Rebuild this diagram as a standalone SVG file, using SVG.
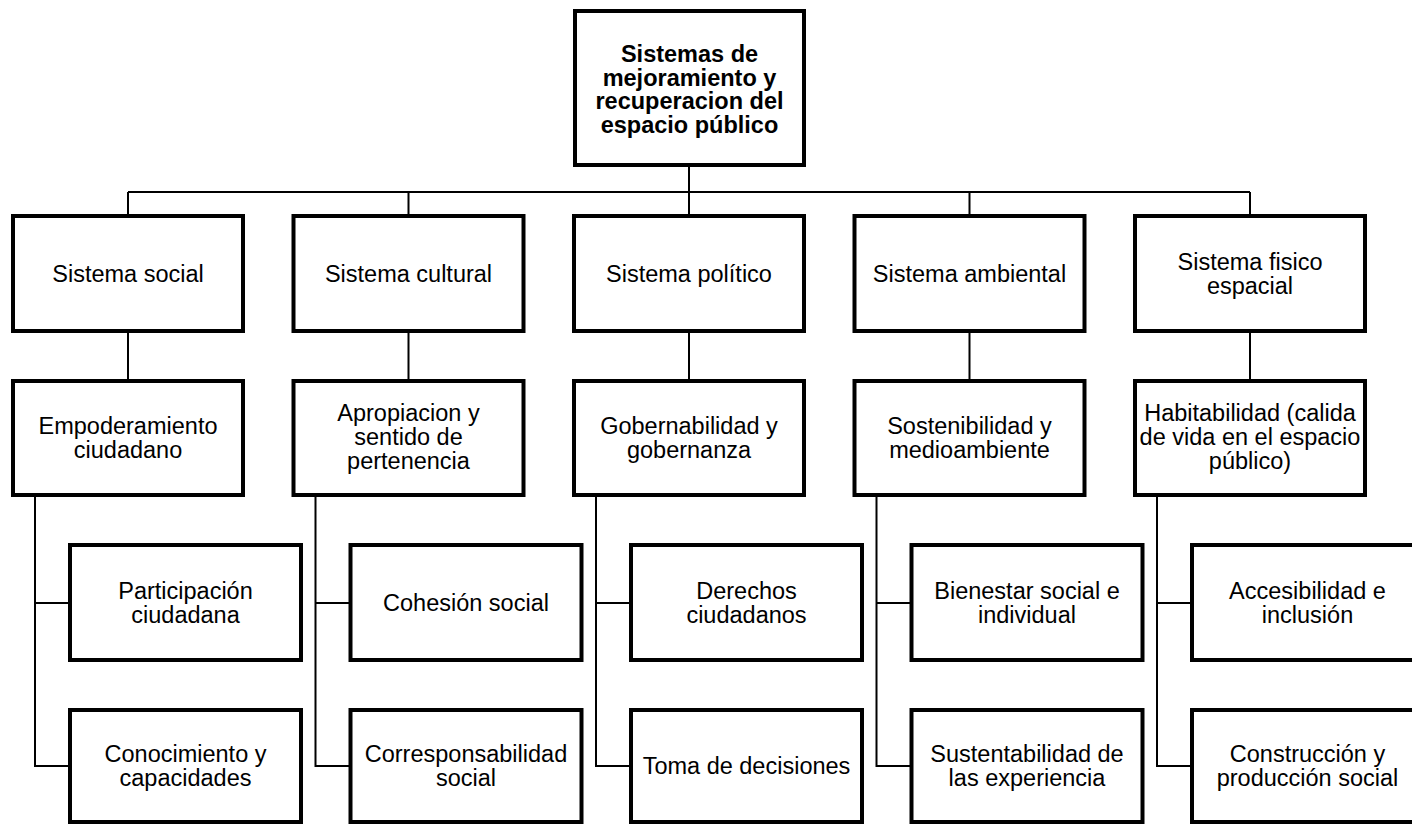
<svg xmlns="http://www.w3.org/2000/svg" width="1412" height="825" viewBox="0 0 1412 825">
<style>
.box{fill:#fff;stroke:#000;stroke-width:4}
.ln{fill:none;stroke:#000;stroke-width:2}
text{font-family:"Liberation Sans",Arial,sans-serif;font-size:23.5px;fill:#000;text-anchor:middle}
.b{font-weight:bold}
</style>
<rect width="1412" height="825" fill="#fff"/>
<g id="connectors" class="ln">
<path d="M689 167V192M128 192H1250M128 192V214M408.5 192V214M689 192V214M969.5 192V214M1250 192V214"/>
<path d="M128 333V379M408.5 333V379M689 333V379M969.5 333V379M1250 333V379"/>
<path d="M35 497V766H70M35 603H70"/>
<path d="M315.5 497V766H350.5M315.5 603H350.5"/>
<path d="M596 497V766H631M596 603H631"/>
<path d="M876.5 497V766H911.5M876.5 603H911.5"/>
<path d="M1157 497V766H1192M1157 603H1192"/>
</g>
<g id="root"><rect class="box" x="575" y="11" width="229" height="154"/>
<text class="b" x="689.5"><tspan x="689.5" y="62">Sistemas de</tspan><tspan x="689.5" y="85.5">mejoramiento y</tspan><tspan x="689.5" y="109">recuperacion del</tspan><tspan x="689.5" y="132.5">espacio público</tspan></text></g>

<g id="social" transform="translate(0,0)"><rect class="box" x="13" y="216" width="230" height="115"/><text x="128" y="281.5">Sistema social</text></g>
<g id="empoderamiento" transform="translate(0,0)"><rect class="box" x="13" y="381" width="230" height="114"/><text><tspan x="128" y="434">Empoderamiento</tspan><tspan x="128" y="458">ciudadano</tspan></text></g>
<g id="participacion" transform="translate(0,0)"><rect class="box" x="70" y="545" width="231" height="115"/><text><tspan x="185.5" y="598.5">Participación</tspan><tspan x="185.5" y="622.5">ciudadana</tspan></text></g>
<g id="conocimiento" transform="translate(0,0)"><rect class="box" x="70" y="710" width="231" height="112"/><text><tspan x="185.5" y="762">Conocimiento y</tspan><tspan x="185.5" y="786">capacidades</tspan></text></g>

<g id="cultural" transform="translate(280.5,0)"><rect class="box" x="13" y="216" width="230" height="115"/><text x="128" y="281.5">Sistema cultural</text></g>
<g id="apropiacion" transform="translate(280.5,0)"><rect class="box" x="13" y="381" width="230" height="114"/><text><tspan x="128" y="421">Apropiacion y</tspan><tspan x="128" y="445">sentido de</tspan><tspan x="128" y="469">pertenencia</tspan></text></g>
<g id="cohesion" transform="translate(280.5,0)"><rect class="box" x="70" y="545" width="231" height="115"/><text x="185.5" y="610.5">Cohesión social</text></g>
<g id="corresponsabilidad" transform="translate(280.5,0)"><rect class="box" x="70" y="710" width="231" height="112"/><text><tspan x="185.5" y="762">Corresponsabilidad</tspan><tspan x="185.5" y="786">social</tspan></text></g>

<g id="politico" transform="translate(561,0)"><rect class="box" x="13" y="216" width="230" height="115"/><text x="128" y="281.5">Sistema político</text></g>
<g id="gobernabilidad" transform="translate(561,0)"><rect class="box" x="13" y="381" width="230" height="114"/><text><tspan x="128" y="434">Gobernabilidad y</tspan><tspan x="128" y="458">gobernanza</tspan></text></g>
<g id="derechos" transform="translate(561,0)"><rect class="box" x="70" y="545" width="231" height="115"/><text><tspan x="185.5" y="598.5">Derechos</tspan><tspan x="185.5" y="622.5">ciudadanos</tspan></text></g>
<g id="toma" transform="translate(561,0)"><rect class="box" x="70" y="710" width="231" height="112"/><text x="185.5" y="774">Toma de decisiones</text></g>

<g id="ambiental" transform="translate(841.5,0)"><rect class="box" x="13" y="216" width="230" height="115"/><text x="128" y="281.5">Sistema ambiental</text></g>
<g id="sostenibilidad" transform="translate(841.5,0)"><rect class="box" x="13" y="381" width="230" height="114"/><text><tspan x="128" y="434">Sostenibilidad y</tspan><tspan x="128" y="458">medioambiente</tspan></text></g>
<g id="bienestar" transform="translate(841.5,0)"><rect class="box" x="70" y="545" width="231" height="115"/><text><tspan x="185.5" y="598.5">Bienestar social e</tspan><tspan x="185.5" y="622.5">individual</tspan></text></g>
<g id="sustentabilidad" transform="translate(841.5,0)"><rect class="box" x="70" y="710" width="231" height="112"/><text><tspan x="185.5" y="762">Sustentabilidad de</tspan><tspan x="185.5" y="786">las experiencia</tspan></text></g>

<g id="fisico" transform="translate(1122,0)"><rect class="box" x="13" y="216" width="230" height="115"/><text><tspan x="128" y="269.5">Sistema fisico</tspan><tspan x="128" y="293.5">espacial</tspan></text></g>
<g id="habitabilidad" transform="translate(1122,0)"><rect class="box" x="13" y="381" width="230" height="114"/><text><tspan x="128" y="421">Habitabilidad (calida</tspan><tspan x="128" y="445">de vida en el espacio</tspan><tspan x="128" y="469">público)</tspan></text></g>
<g id="accesibilidad" transform="translate(1122,0)"><rect class="box" x="70" y="545" width="231" height="115"/><text><tspan x="185.5" y="598.5">Accesibilidad e</tspan><tspan x="185.5" y="622.5">inclusión</tspan></text></g>
<g id="construccion" transform="translate(1122,0)"><rect class="box" x="70" y="710" width="231" height="112"/><text><tspan x="185.5" y="762">Construcción y</tspan><tspan x="185.5" y="786">producción social</tspan></text></g>
</svg>
